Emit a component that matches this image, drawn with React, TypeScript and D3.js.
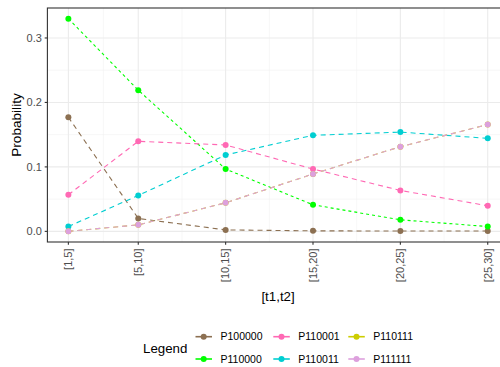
import React from 'react';
import * as d3 from 'd3';

// x positions are the lower bound of each interval
const xValues = [1, 5, 10, 15, 20, 25];
const xLabels = ['[1,5]', '[5,10]', '[10,15]', '[15,20]', '[20,25]', '[25,30]'];

const P100000 = [0.177, 0.020, 0.0023, 0.0008, 0.0005, 0.0005];
const P110000 = [0.330, 0.219, 0.0967, 0.0412, 0.0179, 0.0075];
const P110001 = [0.0568, 0.1397, 0.134, 0.0967, 0.0635, 0.0397];
const P110011 = [0.0075, 0.0557, 0.1185, 0.149, 0.154, 0.1443];
const P110111 = [0.0, 0.0101, 0.0443, 0.089, 0.1314, 0.1656];
const P111111 = [0.0, 0.0101, 0.0443, 0.089, 0.1314, 0.1656];

const yTicks = [0, 0.1, 0.2, 0.3];
const yMinor = [0.05, 0.15, 0.25];
const xMinor = [3, 7.5, 12.5, 17.5, 22.5];

const series = [
  { name: 'P100000', values: P100000, color: '#8C7052', dash: '5,4' },
  { name: 'P110000', values: P110000, color: '#00FF00', dash: '3,3' },
  { name: 'P110001', values: P110001, color: '#FF69B4', dash: '5,4' },
  { name: 'P110011', values: P110011, color: '#00CED1', dash: '5,4' },
  { name: 'P110111', values: P110111, color: '#CDCD00', dash: '5,4' },
  { name: 'P111111', values: P111111, color: '#DDA0DD', dash: '5,4' },
];

const FONT = '"Liberation Sans", Arial, sans-serif';

export default function App() {
  const width = 500;
  const height = 367;
  const panel = { left: 47.4, right: 508.7, top: 8, bottom: 242 };

  const x = d3.scaleLinear().domain([-0.2, 26.2]).range([panel.left, panel.right]);
  const y = d3.scaleLinear().domain([-0.0165, 0.3465]).range([panel.bottom, panel.top]);

  const line = d3.line<number>()
    .x((d, i) => x(xValues[i]))
    .y(d => y(d));

  // legend laid out column by column, 2 rows
  const legendCols = [195.5, 273.3, 348.3];
  const legendRows = [336.7, 359];

  return (
    <svg width={width} height={height} style={{ position: 'absolute', left: 0, top: 0 }}>
      <rect x={0} y={0} width={width} height={height} fill="#fff" />
      <defs>
        <clipPath id="panel">
          <rect x={panel.left} y={panel.top} width={panel.right - panel.left} height={panel.bottom - panel.top} />
        </clipPath>
      </defs>
      <g clipPath="url(#panel)">
        {yMinor.map(v => (
          <line key={'ym' + v} x1={panel.left} x2={panel.right} y1={y(v)} y2={y(v)} stroke="#F2F2F2" strokeWidth={0.6} />
        ))}
        {xMinor.map(v => (
          <line key={'xm' + v} x1={x(v)} x2={x(v)} y1={panel.top} y2={panel.bottom} stroke="#F2F2F2" strokeWidth={0.6} />
        ))}
        {yTicks.map(v => (
          <line key={'y' + v} x1={panel.left} x2={panel.right} y1={y(v)} y2={y(v)} stroke="#EBEBEB" strokeWidth={1.1} />
        ))}
        {xValues.map(v => (
          <line key={'x' + v} x1={x(v)} x2={x(v)} y1={panel.top} y2={panel.bottom} stroke="#EBEBEB" strokeWidth={1.1} />
        ))}
        {series.map(s => (
          <path key={s.name} d={line(s.values) || ''} fill="none" stroke={s.color} strokeWidth={1.1} strokeDasharray={s.dash} />
        ))}
        {series.map(s => (
          <g key={s.name + 'pts'}>
            {s.values.map((v, i) => (
              <circle key={i} cx={x(xValues[i])} cy={y(v)} r={3} fill={s.color} />
            ))}
          </g>
        ))}
      </g>
      <rect x={panel.left} y={panel.top} width={panel.right - panel.left} height={panel.bottom - panel.top} fill="none" stroke="#333333" strokeWidth={1.1} />

      {/* y axis */}
      {yTicks.map(v => (
        <g key={'yt' + v}>
          <line x1={panel.left - 2.7} x2={panel.left} y1={y(v)} y2={y(v)} stroke="#333333" strokeWidth={1.1} />
          <text x={panel.left - 5.5} y={y(v)} dy="0.35em" textAnchor="end" fontFamily={FONT} fontSize={11} fill="#4D4D4D">
            {v.toFixed(1)}
          </text>
        </g>
      ))}
      <text transform={`translate(16,${(panel.top + panel.bottom) / 2}) rotate(-90)`} textAnchor="middle" dy="0.35em" fontFamily={FONT} fontSize={13.6} fill="#000">
        Probability
      </text>

      {/* x axis */}
      {xValues.map((v, i) => (
        <g key={'xt' + v}>
          <line x1={x(v)} x2={x(v)} y1={panel.bottom} y2={panel.bottom + 2.7} stroke="#333333" strokeWidth={1.1} />
          <text transform={`translate(${x(v)},${panel.bottom + 6.5}) rotate(-90)`} textAnchor="end" dy="0.35em" fontFamily={FONT} fontSize={11} fill="#4D4D4D">
            {xLabels[i]}
          </text>
        </g>
      ))}
      <text x={(panel.left + panel.right) / 2} y={296} dy="0.35em" textAnchor="middle" fontFamily={FONT} fontSize={13.3} fill="#000">
        [t1,t2]
      </text>

      {/* legend */}
      <text x={143} y={348} dy="0.35em" fontFamily={FONT} fontSize={13.3} fill="#000">Legend</text>
      {series.map((s, i) => {
        const cx = legendCols[Math.floor(i / 2)];
        const cy = legendRows[i % 2];
        return (
          <g key={s.name + 'leg'}>
            <line x1={cx} x2={cx + 16.5} y1={cy} y2={cy} stroke={s.color} strokeWidth={1.6} />
            <circle cx={cx + 8.2} cy={cy} r={3} fill={s.color} />
            <text x={cx + 25} y={cy} dy="0.35em" fontFamily={FONT} fontSize={10.5} fill="#000">{s.name}</text>
          </g>
        );
      })}
    </svg>
  );
}
